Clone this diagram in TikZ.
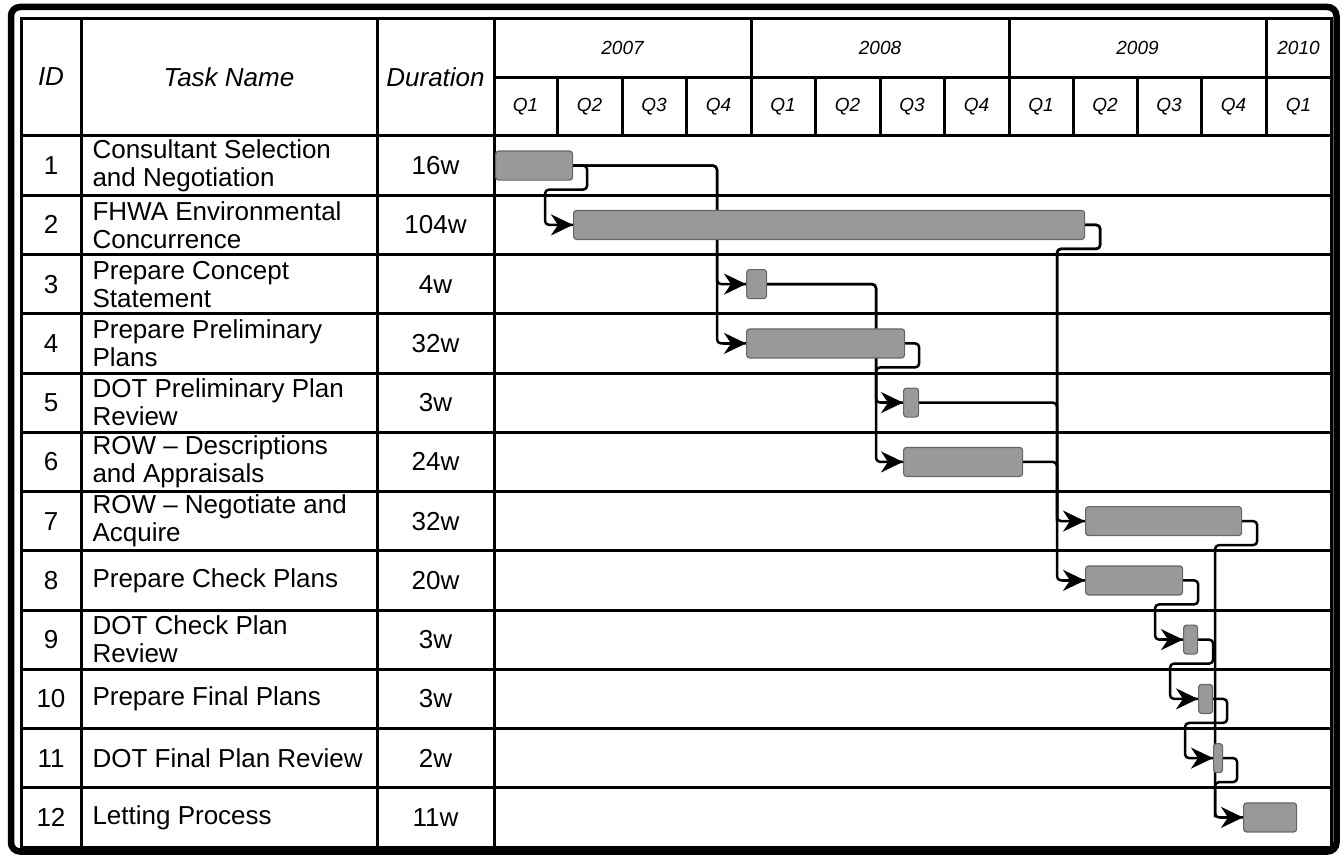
\documentclass[tikz,border=0pt]{standalone}
\usepackage{fontspec}
\setmainfont{Liberation Sans}
\usetikzlibrary{arrows.meta,backgrounds}
\tikzset{
    gridline/.style={line width=3pt},
    bar/.style={draw=black!60,fill=black!40,line width=1.2pt,rounded corners=3pt,minimum height=29pt,inner sep=0pt,anchor=west},
    link/.style={line width=2.5pt,rounded corners=4pt,line join=round},
    headtip/.style={line width=2.5pt,-{Stealth[length=22pt,width=21pt,inset=7pt]}},
    hd/.style={font=\fontsize{26}{28}\selectfont\itshape},
    yr/.style={font=\fontsize{19}{21}\selectfont\itshape},
    cell/.style={font=\fontsize{26}{28}\selectfont,align=left},
}

\begin{document}
        \begin{tikzpicture}[x=1pt,y=-1pt]
            \useasboundingbox (0,0) rectangle (1344,856);
            \draw[line width=6.5pt,rounded corners=9pt] (11,7) rectangle (1336.5,851.5);
            % table grid
            \draw[gridline] (21,19) rectangle (1331,847);
            \foreach \x in {81,377,494} \draw[gridline] (\x,19) -- (\x,847);
            \foreach \x in {751,1009,1266} \draw[gridline] (\x,19) -- (\x,136);
            \draw[gridline] (494,78) -- (1331,78);
            \foreach \x in {557,622,686,815,880,944,1073,1137,1201} \draw[gridline] (\x,78) -- (\x,136);
            \foreach \i in {0,...,11} \draw[gridline] (21,{136+59.25*\i}) -- (1331,{136+59.25*\i});
            % header
            \node[hd] (hid) at (51,77) {ID};
            \node[hd] (hname) at (229,77) {Task Name};
            \node[hd] (hdur) at (435.5,77) {Duration};
            \node[yr] (y07) at (622.5,48) {2007};
            \node[yr] (y08) at (880,48) {2008};
            \node[yr] (y09) at (1137.5,48) {2009};
            \node[yr] (y10) at (1298.5,48) {2010};
            \node[yr] (q1a) at (525.5,107) {Q1};
            \node[yr] (q2a) at (589.5,107) {Q2};
            \node[yr] (q3a) at (654,107) {Q3};
            \node[yr] (q4a) at (718.5,107) {Q4};
            \node[yr] (q1b) at (783,107) {Q1};
            \node[yr] (q2b) at (847.5,107) {Q2};
            \node[yr] (q3b) at (912,107) {Q3};
            \node[yr] (q4b) at (976.5,107) {Q4};
            \node[yr] (q1c) at (1041,107) {Q1};
            \node[yr] (q2c) at (1105,107) {Q2};
            \node[yr] (q3c) at (1169,107) {Q3};
            \node[yr] (q4c) at (1233.5,107) {Q4};
            \node[yr] (q1d) at (1298.5,107) {Q1};
            % tasks
            \node[cell] (id1) at (51,165.6) {1};
            \node[cell,anchor=west] (t1) at (89,165.6) {Consultant Selection\\and Negotiation};
            \node[cell] (d1) at (435.5,165.6) {16w};
            \node[cell] (id2) at (51,224.9) {2};
            \node[cell,anchor=west] (t2) at (89,224.9) {FHWA Environmental\\Concurrence};
            \node[cell] (d2) at (435.5,224.9) {104w};
            \node[cell] (id3) at (51,284.1) {3};
            \node[cell,anchor=west] (t3) at (89,284.1) {Prepare Concept\\Statement};
            \node[cell] (d3) at (435.5,284.1) {4w};
            \node[cell] (id4) at (51,343.4) {4};
            \node[cell,anchor=west] (t4) at (89,343.4) {Prepare Preliminary\\Plans};
            \node[cell] (d4) at (435.5,343.4) {32w};
            \node[cell] (id5) at (51,402.6) {5};
            \node[cell,anchor=west] (t5) at (89,402.6) {DOT Preliminary Plan\\Review};
            \node[cell] (d5) at (435.5,402.6) {3w};
            \node[cell] (id6) at (51,461.9) {6};
            \node[cell,anchor=west] (t6) at (89,461.9) {ROW – Descriptions\\and Appraisals};
            \node[cell] (d6) at (435.5,461.9) {24w};
            \node[cell] (id7) at (51,521.1) {7};
            \node[cell,anchor=west] (t7) at (89,521.1) {ROW – Negotiate and\\Acquire};
            \node[cell] (d7) at (435.5,521.1) {32w};
            \node[cell] (id8) at (51,580.4) {8};
            \node[cell,anchor=west] (t8) at (89,580.4) {Prepare Check Plans};
            \node[cell] (d8) at (435.5,580.4) {20w};
            \node[cell] (id9) at (51,639.6) {9};
            \node[cell,anchor=west] (t9) at (89,639.6) {DOT Check Plan\\Review};
            \node[cell] (d9) at (435.5,639.6) {3w};
            \node[cell] (id10) at (51,698.9) {10};
            \node[cell,anchor=west] (t10) at (89,698.9) {Prepare Final Plans};
            \node[cell] (d10) at (435.5,698.9) {3w};
            \node[cell] (id11) at (51,758.1) {11};
            \node[cell,anchor=west] (t11) at (89,758.1) {DOT Final Plan Review};
            \node[cell] (d11) at (435.5,758.1) {2w};
            \node[cell] (id12) at (51,817.4) {12};
            \node[cell,anchor=west] (t12) at (89,817.4) {Letting Process};
            \node[cell] (d12) at (435.5,817.4) {11w};
            % bars
            \node[bar,minimum width=77pt] (b1) at (495,165.6) {};
            \node[bar,minimum width=511pt] (b2) at (573,224.9) {};
            \node[bar,minimum width=20pt] (b3) at (746,284.1) {};
            \node[bar,minimum width=158pt] (b4) at (746,343.4) {};
            \node[bar,minimum width=15pt] (b5) at (903,402.6) {};
            \node[bar,minimum width=119pt] (b6) at (903,461.9) {};
            \node[bar,minimum width=156pt] (b7) at (1085,521.1) {};
            \node[bar,minimum width=97pt] (b8) at (1085,580.4) {};
            \node[bar,minimum width=14pt] (b9) at (1183,639.6) {};
            \node[bar,minimum width=14pt] (b10) at (1198,698.9) {};
            \node[bar,minimum width=9pt] (b11) at (1213,758.1) {};
            \node[bar,minimum width=53pt] (b12) at (1243,817.4) {};
            % links, under the bars
            \begin{pgfonlayer}{background}
            \draw[link] (b1.east) -- ++(14,0) -- ++(0,24) -| ([xshift=-28pt]b2.west) -- (b2.west);
            \draw[link] (b1.east) -| ([xshift=-29pt]b3.west) -- (b3.west);
            \draw[link] (b1.east) -| ([xshift=-29pt]b4.west) -- (b4.west);
            \draw[link] (b3.east) -| ([xshift=-27pt]b5.west) -- (b5.west);
            \draw[link] (b3.east) -| ([xshift=-27pt]b6.west) -- (b6.west);
            \draw[link] (b4.east) -- ++(14,0) -- ++(0,24) -| ([xshift=-27pt]b5.west);
            \draw[link] (b2.east) -- ++(15,0) -- ++(0,24) -| ([xshift=-28pt]b7.west) -- (b7.west);
            \draw[link] (b2.east) -- ++(15,0) -- ++(0,24) -| ([xshift=-28pt]b8.west) -- (b8.west);
            \draw[link] (b5.east) -| ([xshift=-28pt]b7.west);
            \draw[link] (b6.east) -| ([xshift=-28pt]b7.west);
            \draw[link] (b7.east) -- ++(15,0) -- ++(0,24) -| ([xshift=-28pt]b12.west) -- (b12.west);
            \draw[link] (b8.east) -- ++(15,0) -- ++(0,24) -| ([xshift=-28pt]b9.west) -- (b9.west);
            \draw[link] (b9.east) -- ++(15,0) -- ++(0,24) -| ([xshift=-28pt]b10.west) -- (b10.west);
            \draw[link] (b10.east) -- ++(14,0) -- ++(0,24) -| ([xshift=-28pt]b11.west) -- (b11.west);
            \draw[link] (b11.east) -- ++(14,0) -- ++(0,24) -| ([xshift=-28pt]b12.west);
            % arrow heads
            \foreach \b in {b2,b3,b4,b5,b6,b7,b8,b9,b10,b11,b12}
                \draw[headtip] ([xshift=-23pt]\b.west) -- (\b.west);
            \end{pgfonlayer}
        \end{tikzpicture}
\end{document}
